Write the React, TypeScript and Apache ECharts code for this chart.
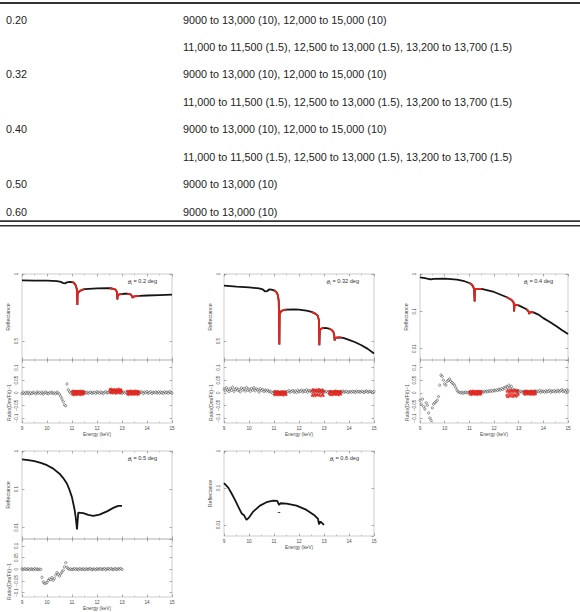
import React, { useEffect, useRef } from "react";
import * as echarts from "echarts";

// ---------------- Table data ----------------
const tableAngles = ["0.20", "", "0.32", "", "0.40", "", "0.50", "0.60"];
const tableRanges = [
  "9000 to 13,000 (10), 12,000 to 15,000 (10)",
  "11,000 to 11,500 (1.5), 12,500 to 13,000 (1.5), 13,200 to 13,700 (1.5)",
  "9000 to 13,000 (10), 12,000 to 15,000 (10)",
  "11,000 to 11,500 (1.5), 12,500 to 13,000 (1.5), 13,200 to 13,700 (1.5)",
  "9000 to 13,000 (10), 12,000 to 15,000 (10)",
  "11,000 to 11,500 (1.5), 12,500 to 13,000 (1.5), 13,200 to 13,700 (1.5)",
  "9000 to 13,000 (10)",
  "9000 to 13,000 (10)",
];

// ---------------- Chart data ----------------
const angleLabels = ["0.2", "0.32", "0.4", "0.5", "0.6"];
const fineRanges: [number, number][] = [[11.0, 11.5], [12.5, 13.0], [13.2, 13.7]];
const energyTickLabels = [9, 10, 11, 12, 13, 14, 15];
const linearReflTicks = [0.5, 1];
const residualTicks = [-0.1, -0.05, 0, 0.05, 0.1];

// Reflectance [energy keV, reflectance]
const refl020: [number, number][] = [
  [9.0, 0.952], [9.5, 0.951], [10.0, 0.95], [10.4, 0.947], [10.55, 0.942], [10.65, 0.932], [10.72, 0.93],
  [10.8, 0.938], [10.9, 0.942], [11.0, 0.94], [11.05, 0.937], [11.1, 0.93], [11.15, 0.915], [11.19, 0.89],
  [11.205, 0.84], [11.215, 0.77], [11.225, 0.855], [11.25, 0.862], [11.3, 0.872], [11.4, 0.882], [11.5, 0.887],
  [12.0, 0.893], [12.4, 0.895], [12.5, 0.894], [12.6, 0.892], [12.7, 0.888], [12.77, 0.878], [12.8, 0.86],
  [12.815, 0.81], [12.83, 0.84], [12.86, 0.846], [12.95, 0.85], [13.0, 0.851], [13.1, 0.853], [13.2, 0.853],
  [13.3, 0.851], [13.37, 0.845], [13.41, 0.832], [13.425, 0.822], [13.44, 0.83], [13.5, 0.834], [13.6, 0.836],
  [13.7, 0.837], [14.0, 0.84], [14.5, 0.843], [15.0, 0.846],
];
const refl032: [number, number][] = [
  [9.0, 0.913], [9.5, 0.906], [10.0, 0.9], [10.4, 0.893], [10.55, 0.885], [10.65, 0.87], [10.72, 0.872],
  [10.8, 0.885], [10.9, 0.884], [11.0, 0.878], [11.05, 0.873], [11.1, 0.865], [11.15, 0.845], [11.19, 0.8],
  [11.205, 0.62], [11.215, 0.475], [11.225, 0.7], [11.25, 0.712], [11.3, 0.726], [11.4, 0.732], [11.5, 0.735],
  [11.8, 0.737], [12.0, 0.735], [12.3, 0.728], [12.5, 0.718], [12.65, 0.705], [12.75, 0.69], [12.8, 0.655],
  [12.815, 0.47], [12.83, 0.58], [12.86, 0.59], [12.95, 0.598], [13.0, 0.599], [13.1, 0.597], [13.2, 0.593],
  [13.3, 0.585], [13.37, 0.572], [13.41, 0.545], [13.425, 0.505], [13.44, 0.52], [13.5, 0.527], [13.6, 0.528],
  [13.7, 0.526], [13.8, 0.522], [14.0, 0.51], [14.25, 0.492], [14.5, 0.47], [14.75, 0.443], [15.0, 0.408],
];
const refl040: [number, number][] = [
  [9.0, 0.814], [9.2, 0.78], [9.35, 0.735], [9.45, 0.72], [9.55, 0.745], [10.0, 0.75], [10.5, 0.705],
  [10.8, 0.64], [11.0, 0.574], [11.1, 0.52], [11.15, 0.467], [11.19, 0.4], [11.205, 0.26], [11.215, 0.185],
  [11.225, 0.37], [11.25, 0.397], [11.5, 0.397], [12.0, 0.33], [12.5, 0.242], [12.7, 0.205], [12.78, 0.18],
  [12.8, 0.167], [12.815, 0.1], [12.83, 0.145], [12.86, 0.151], [13.0, 0.145], [13.3, 0.1155], [13.38, 0.104],
  [13.41, 0.096], [13.425, 0.085], [13.44, 0.092], [13.5, 0.096], [13.6, 0.094], [13.8, 0.082], [14.0, 0.066],
  [14.25, 0.053], [14.5, 0.041], [14.75, 0.0316], [15.0, 0.0247],
];
const refl050: [number, number][] = [
  [9.0, 0.601], [9.25, 0.577], [9.5, 0.54], [9.75, 0.49], [10.0, 0.425], [10.25, 0.346], [10.5, 0.255],
  [10.65, 0.196], [10.8, 0.139], [10.9, 0.096], [11.0, 0.0613], [11.1, 0.03], [11.15, 0.018], [11.2, 0.00885],
  [11.25, 0.0245], [11.45, 0.0236], [11.65, 0.0213], [11.85, 0.02], [12.1, 0.0217], [12.4, 0.0264],
  [12.65, 0.0325], [12.85, 0.0369], [13.0, 0.0369],
];
const refl060: [number, number][] = [
  [9.0, 0.134], [9.17, 0.102], [9.3, 0.0718], [9.44, 0.0474], [9.57, 0.0313], [9.7, 0.0207], [9.81, 0.0179],
  [9.9, 0.0136], [10.0, 0.0158], [10.17, 0.0229], [10.44, 0.0333], [10.7, 0.041], [10.97, 0.0455],
  [11.13, 0.0445], [11.2, 0.0347], [11.26, 0.0385], [11.5, 0.0377], [11.9, 0.0333], [12.3, 0.0254],
  [12.63, 0.0179], [12.76, 0.0145], [12.8, 0.0104], [12.86, 0.0123], [13.0, 0.01],
];
const stray060: [number, number][] = [[11.2, 0.0216]];

// Residuals (Dm/Fit - 1), coarse scan sampled from 9.00 keV every 0.05 keV
const resStart = 9.0;
const resStep = 0.05;
const res020 = [
  -0.003, 0.002, -0.004, 0.001, -0.002, 0.003, -0.005, 0.0, -0.003, 0.002,
  -0.001, -0.004, 0.003, -0.002, 0.001, -0.003, 0.002, -0.005, 0.0, 0.003,
  -0.002, -0.004, 0.001, -0.001, 0.002, -0.003, 0.0, -0.004, 0.002, -0.002,
  -0.006,
  -0.015, -0.025, -0.035, -0.048, -0.052, 0.035, 0.012, 0.004, -0.002, 0.003,
  0.002, -0.003, 0.004, -0.001, 0.003, -0.004, 0.001, 0.002, -0.002, 0.003,
  -0.001, 0.002, -0.003, 0.001, 0.003, -0.002, 0.0, 0.002, -0.003, 0.004,
  0.001, -0.002, 0.003, 0.0, -0.003, 0.002, 0.004, -0.001, 0.002, 0.005,
  0.004, 0.006, 0.003, 0.007, 0.002, 0.005, 0.004, 0.001, 0.003, -0.002,
  0.002, -0.001, 0.003, 0.0, -0.002, 0.003, 0.001, -0.003, 0.002, 0.0,
  -0.002, 0.003, 0.001, -0.001, 0.004, 0.002, -0.003, 0.003, 0.0, 0.005,
  -0.002, 0.001, 0.004, -0.003, 0.002, 0.0, 0.003, -0.001, 0.004, -0.002,
  0.003, 0.001, -0.003, 0.004, 0.0, 0.002, -0.002, 0.005, 0.001, -0.001,
];
const res032 = [
  0.015, 0.008, 0.02, 0.011, 0.005, 0.017, 0.01, 0.022, 0.006, 0.014,
  0.018, 0.009, 0.013, 0.004, 0.019, 0.012, 0.016, 0.007, 0.021, 0.01,
  0.014, 0.006, 0.017, 0.011, 0.02, 0.008, 0.015, 0.012, 0.003, 0.016,
  0.009, 0.013, 0.005, 0.011, 0.007, 0.01, 0.004,
  0.006, 0.002, -0.002, 0.005,
  0.003, -0.001, 0.004, 0.0, 0.002, -0.002, 0.003, 0.001, -0.001, 0.004,
  0.005, 0.008, 0.002, 0.006, 0.009, 0.003, 0.007, 0.001, 0.01, 0.004,
  0.006, 0.011, 0.003, 0.008, 0.005, 0.012, 0.002, 0.009, 0.007, 0.004,
  0.006, 0.01, 0.002, 0.008, 0.003, 0.011, 0.004, 0.007, 0.001, 0.005,
  0.003, 0.006, 0.001, 0.004, 0.002, 0.005, 0.0, 0.003, 0.006, 0.002,
  0.004, 0.001, 0.005, 0.003, 0.007, 0.002, 0.004, 0.006, 0.001, 0.003,
  0.005, 0.002, 0.006, 0.004, 0.001, 0.007, 0.003, 0.005, 0.002, 0.006,
  0.004, 0.001, 0.005, 0.007, 0.002, 0.004, 0.006, 0.003, 0.001, 0.005,
];
const res040 = [
  -0.03, -0.045, -0.025, -0.055, -0.065, -0.04, -0.05, -0.08, -0.1, -0.11,
  -0.06, -0.045, -0.04, -0.035, -0.03, -0.015, 0.03, 0.07, 0.065, 0.05,
  0.035, 0.03, 0.045, 0.05, 0.055, 0.045, 0.04, 0.035, 0.03, 0.02,
  0.01, 0.004, 0.002, -0.001, 0.002, -0.002, 0.001, 0.003, -0.001, 0.002,
  0.0,
  0.001, -0.002, 0.003, 0.0, -0.001, 0.002, 0.004, -0.002, 0.003, 0.005,
  0.002, 0.006, 0.003, 0.007, 0.004, 0.008, 0.005, 0.009, 0.006, 0.01,
  0.008, 0.012, 0.009, 0.014, 0.011, 0.016, 0.013, 0.02, 0.018, 0.025,
  0.022, 0.03, 0.019, 0.026, 0.015, 0.012, 0.008, 0.01, 0.006, 0.004,
  0.003, 0.006, 0.002, 0.005, 0.004, 0.007, 0.001, 0.005, 0.003, 0.006,
  0.002, 0.005, 0.008, 0.003, 0.006, 0.004, 0.009, 0.002, 0.007, 0.005,
  0.003, 0.008, 0.004, 0.006, 0.01, 0.002, 0.007, 0.005, 0.009, 0.003,
  0.006, 0.01, 0.004, 0.008, 0.012, 0.005, 0.009, 0.003, 0.011, 0.006,
];
const res050 = [
  0.001, -0.002, 0.002, 0.0, -0.001, 0.002, -0.002, 0.001, 0.0, -0.002,
  0.002, -0.001, 0.001, -0.002, 0.0, -0.001,
  -0.035, -0.055, -0.062, -0.06, -0.058, -0.048, -0.042, -0.045, -0.036, -0.048,
  -0.04, -0.025, -0.015, -0.022, -0.03, -0.02, -0.012, -0.005, 0.01, 0.028, 0.008,
  0.002, -0.001, 0.001, -0.002, 0.0, 0.002, -0.001, 0.001, -0.002, 0.002,
  0.0, -0.001, 0.002, -0.002, 0.001, 0.0, -0.001, 0.002, 0.001, -0.002,
  0.001, 0.0, -0.002, 0.002, -0.001, 0.001, 0.002, -0.001, 0.0, 0.003,
  -0.002, 0.001, 0.002, -0.001, 0.003, 0.0, -0.002, 0.002, 0.001, -0.001,
  0.002, 0.0, 0.003, -0.001,
];

// Fine-step residuals, each fine range sampled every 0.0125 keV (41 values)
const fineStep = 0.0125;
const fine020 = [
  [0.004, -0.008, 0.006, -0.003, 0.009, -0.006, 0.002, -0.01, 0.007, -0.004,
   0.005, -0.007, 0.003, 0.008, -0.005, 0.001, -0.009, 0.006, -0.002, 0.007,
   -0.006, 0.003, -0.004, 0.008, -0.007, 0.002, 0.006, -0.009, 0.004, -0.001,
   0.009, -0.005, 0.003, -0.008, 0.006, -0.002, 0.007, -0.006, 0.001, 0.005, -0.003],
  [0.012, 0.002, 0.015, -0.002, 0.01, 0.004, 0.016, 0.0, 0.011, 0.006,
   -0.003, 0.013, 0.003, 0.009, 0.014, -0.001, 0.008, 0.012, 0.002, 0.01,
   -0.004, 0.007, 0.015, 0.001, 0.011, 0.005, -0.002, 0.013, 0.004, 0.009,
   0.016, 0.0, 0.008, 0.012, -0.003, 0.01, 0.006, 0.014, 0.002, 0.009, 0.005],
  [0.005, -0.007, 0.008, -0.004, 0.002, -0.009, 0.006, -0.002, 0.007, -0.006,
   0.003, 0.009, -0.005, 0.001, -0.008, 0.006, -0.003, 0.008, -0.006, 0.004,
   -0.002, 0.007, -0.008, 0.003, 0.005, -0.004, 0.009, -0.007, 0.001, 0.006,
   -0.003, 0.008, -0.005, 0.002, -0.009, 0.004, 0.007, -0.002, 0.005, -0.006, 0.003],
];
const fine032 = [
  [-0.006, 0.004, -0.01, 0.002, -0.004, 0.007, -0.008, 0.001, -0.003, 0.005,
   -0.009, 0.003, -0.006, 0.006, -0.002, -0.01, 0.004, -0.005, 0.002, -0.007,
   0.003, -0.008, 0.005, -0.001, -0.009, 0.006, -0.004, 0.002, -0.007, 0.004,
   -0.011, 0.001, -0.005, 0.006, -0.003, -0.008, 0.003, -0.006, 0.005, -0.002, -0.009],
  [0.008, -0.012, 0.01, -0.004, 0.014, -0.01, 0.006, -0.014, 0.012, 0.0,
   -0.008, 0.011, -0.006, 0.009, -0.013, 0.004, 0.013, -0.009, 0.007, -0.005,
   0.01, -0.011, 0.003, 0.015, -0.007, 0.006, -0.012, 0.009, -0.002, 0.012,
   -0.014, 0.005, 0.011, -0.008, 0.002, -0.01, 0.013, -0.004, 0.008, -0.013, 0.006],
  [-0.004, 0.006, -0.008, 0.003, -0.002, 0.007, -0.009, 0.001, 0.005, -0.006,
   0.004, -0.01, 0.002, 0.006, -0.005, 0.003, -0.007, 0.005, -0.003, 0.004,
   -0.006, 0.008, -0.009, 0.002, 0.005, -0.004, 0.007, -0.008, 0.0, 0.006,
   -0.006, 0.003, -0.01, 0.004, 0.001, -0.005, 0.007, -0.003, 0.005, -0.007, 0.002],
];
const fine040 = [
  [0.003, -0.007, 0.006, -0.002, 0.008, -0.005, 0.001, -0.009, 0.005, -0.003,
   0.007, -0.006, 0.002, 0.009, -0.004, 0.0, -0.008, 0.005, -0.001, 0.006,
   -0.005, 0.004, -0.007, 0.008, -0.003, 0.002, -0.009, 0.006, -0.002, 0.007,
   -0.006, 0.003, 0.008, -0.004, 0.001, -0.008, 0.005, -0.002, 0.006, -0.005, 0.002],
  [-0.01, 0.004, -0.016, 0.008, -0.006, 0.012, -0.018, 0.002, -0.012, 0.006,
   -0.004, 0.01, -0.014, 0.003, -0.008, 0.011, -0.015, 0.005, -0.003, 0.007,
   -0.01, 0.009, -0.017, 0.001, -0.011, 0.008, -0.006, 0.012, -0.013, 0.004,
   -0.009, 0.01, -0.016, 0.002, -0.005, 0.009, -0.012, 0.006, -0.002, 0.011, -0.008],
  [0.002, -0.006, 0.007, -0.003, 0.004, -0.008, 0.005, -0.001, 0.006, -0.005,
   0.002, 0.008, -0.004, 0.003, -0.007, 0.005, -0.002, 0.006, -0.005, 0.003,
   -0.004, 0.007, -0.008, 0.001, 0.005, -0.006, 0.008, -0.003, 0.002, -0.007,
   0.004, 0.006, -0.005, 0.001, -0.008, 0.005, -0.002, 0.007, -0.004, 0.003, -0.006],
];

// ---------------- Layout & style ----------------
const FONT = "Liberation Sans, Arial, sans-serif";
const BLACK = "#151515";
const RED = "#e3231c";
const FRAME = "#b8b8b8";
const LABEL = "#4a4a4a";

type Panel = {
  angle: string;
  refl: [number, number][];
  log: boolean;
  res: number[] | null;
  fine: number[][] | null;
  stray?: [number, number][];
  left: number; top: number; width: number; hTop: number; hRes: number;
};

const panels: Panel[] = [
  { angle: angleLabels[0], refl: refl020, log: false, res: res020, fine: fine020, left: 22, top: 274, width: 150, hTop: 86, hRes: 63 },
  { angle: angleLabels[1], refl: refl032, log: false, res: res032, fine: fine032, left: 224, top: 274, width: 150, hTop: 86, hRes: 63 },
  { angle: angleLabels[2], refl: refl040, log: true, res: res040, fine: fine040, left: 420, top: 274, width: 148, hTop: 86, hRes: 63 },
  { angle: angleLabels[3], refl: refl050, log: true, res: res050, fine: null, left: 22, top: 451, width: 150, hTop: 88, hRes: 63 },
  { angle: angleLabels[4], refl: refl060, log: true, res: null, fine: null, stray: stray060, left: 224, top: 451, width: 150, hTop: 85, hRes: 0 },
];

const tick = { show: true, inside: true, length: 2.5, lineStyle: { color: "#777", width: 0.6 } };
const minorTick = { show: true, splitNumber: 2, length: 1.5, lineStyle: { color: "#999", width: 0.5 } };
const noLine = { show: false, onZero: false };
const labelStyle = { fontSize: 4.7, color: LABEL, fontFamily: FONT };
const yLabelStyle = { fontSize: 4.5, color: LABEL, fontFamily: FONT };
const nameStyle = { fontSize: 5.2, color: LABEL, fontFamily: FONT };
const xNameStyle = { fontSize: 4.8, color: LABEL, fontFamily: FONT };

const fmtNum = (v: number) => {
  const r = +Number(v).toPrecision(3);
  if (r === 0) return "0";
  return r < 0 ? "\u2212" + String(Math.abs(r)) : String(r);
};

function buildOption() {
  const grids: any[] = [];
  const xAxes: any[] = [];
  const yAxes: any[] = [];
  const series: any[] = [];
  const graphics: any[] = [];

  const mkX = (g: number, labels: boolean) => ({
    type: "value", gridIndex: g, min: energyTickLabels[0], max: energyTickLabels[energyTickLabels.length - 1], interval: 1,
    position: "bottom", axisLine: noLine, axisTick: tick, minorTick, splitLine: { show: false },
    axisLabel: { show: labels, margin: 3, ...labelStyle },
    name: labels ? "Energy (keV)" : "", nameLocation: "middle", nameGap: 9, nameTextStyle: xNameStyle,
  });

  panels.forEach((p) => {
    // Reflectance grid
    const g = grids.length;
    grids.push({ left: p.left, top: p.top, width: p.width, height: p.hTop, show: true, borderColor: FRAME, borderWidth: 0.7, backgroundColor: "transparent" });
    xAxes.push(mkX(g, !p.res));
    if (p.log) {
      yAxes.push({
        type: "log", logBase: 10, gridIndex: g, min: 0.005, max: 1, position: "left",
        axisLine: noLine, axisTick: tick, splitLine: { show: false },
        axisLabel: { rotate: 90, margin: 3, showMinLabel: false, showMaxLabel: true, formatter: fmtNum, ...yLabelStyle },
        name: "Reflectance", nameLocation: "middle", nameGap: 12, nameTextStyle: nameStyle,
      });
    } else {
      yAxes.push({
        type: "value", gridIndex: g, min: 0.36, max: 1, position: "left",
        axisLine: noLine, axisTick: { ...tick, customValues: linearReflTicks }, splitLine: { show: false },
        axisLabel: { rotate: 90, margin: 3, customValues: linearReflTicks, formatter: fmtNum, ...yLabelStyle },
        name: "Reflectance", nameLocation: "middle", nameGap: 12, nameTextStyle: nameStyle,
      });
    }
    series.push({
      type: "line", xAxisIndex: g, yAxisIndex: g, data: p.refl, showSymbol: false, symbol: "none",
      lineStyle: { color: BLACK, width: 1.8 }, z: 2,
    });
    if (p.fine) {
      fineRanges.forEach(([a, b]) => {
        series.push({
          type: "line", xAxisIndex: g, yAxisIndex: g, data: p.refl.filter(([e]) => e >= a - 1e-9 && e <= b + 1e-9),
          showSymbol: false, symbol: "none", lineStyle: { color: RED, width: 1.8 }, z: 3,
        });
      });
    }
    if (p.stray) {
      series.push({
        type: "scatter", xAxisIndex: g, yAxisIndex: g, data: p.stray, symbol: "rect", symbolSize: [2.5, 1],
        itemStyle: { color: BLACK }, z: 3,
      });
    }
    graphics.push({
      type: "text", x: p.left + p.width - 15, y: p.top + 7, z: 100,
      style: {
        text: `{t|\u03b8}{s|i}{n| = ${p.angle} deg}`,
        align: "right", verticalAlign: "middle", fill: "#333",
        rich: {
          t: { fontStyle: "italic", fontSize: 6.2, fontFamily: FONT, fill: "#333" },
          s: { fontSize: 4, fontFamily: FONT, fill: "#333", padding: [4, 0, 0, 0] },
          n: { fontSize: 5.6, fontFamily: FONT, fill: "#333" },
        },
      },
    });

    // Residual grid
    if (p.res) {
      const r = grids.length;
      const rTop = p.top + p.hTop;
      grids.push({ left: p.left, top: rTop, width: p.width, height: p.hRes, show: true, borderColor: FRAME, borderWidth: 0.7, backgroundColor: "transparent" });
      xAxes.push(mkX(r, true));
      yAxes.push({
        type: "value", gridIndex: r, min: -0.12, max: 0.13, position: "left",
        axisLine: noLine, axisTick: { ...tick, customValues: residualTicks }, splitLine: { show: false },
        axisLabel: { rotate: 90, margin: 3, customValues: residualTicks, formatter: fmtNum, ...yLabelStyle },
      });
      series.push({
        type: "scatter", xAxisIndex: r, yAxisIndex: r,
        data: p.res.map((v, i) => [+(resStart + i * resStep).toFixed(3), v]),
        symbol: "circle", symbolSize: 2.3,
        itemStyle: { color: "#fff", borderColor: "#1a1a1a", borderWidth: 0.6 }, z: 2,
      });
      if (p.fine) {
        p.fine.forEach((vals, k) => {
          const start = fineRanges[k][0];
          series.push({
            type: "scatter", xAxisIndex: r, yAxisIndex: r,
            data: vals.map((v, i) => [+(start + i * fineStep).toFixed(4), v]),
            symbol: "circle", symbolSize: 2.2, itemStyle: { color: RED }, z: 3,
          });
        });
      }
      graphics.push({
        type: "text", x: p.left - 13, y: rTop + p.hRes / 2 + 11, rotation: Math.PI / 2, z: 100,
        style: { text: "Ratio(Dm/Fit)\u22121", align: "center", verticalAlign: "middle", fill: LABEL, fontSize: 5.2, fontFamily: FONT },
      });
    }
  });

  // Mirror ticks on top and right edges
  const nGrid = grids.length;
  for (let g = 0; g < nGrid; g++) {
    xAxes.push({
      type: "value", gridIndex: g, min: 9, max: 15, interval: 1, position: "top",
      axisLine: noLine, axisTick: tick, minorTick, splitLine: { show: false }, axisLabel: { show: false },
    });
    const base = yAxes[g];
    yAxes.push({
      ...base, position: "right", name: "", axisLine: noLine, axisLabel: { ...base.axisLabel, show: false },
    });
  }

  // Table
  const rowTop = 19.5;
  const rowH = 27.45;
  graphics.push({ type: "rect", shape: { x: 0, y: 2, width: 580, height: 2 }, style: { fill: "#333" }, z: 50 });
  graphics.push({ type: "rect", shape: { x: 0, y: 220.3, width: 580, height: 1.6 }, style: { fill: "#333" }, z: 50 });
  graphics.push({ type: "rect", shape: { x: 0, y: 224.9, width: 580, height: 1.6 }, style: { fill: "#333" }, z: 50 });
  tableRanges.forEach((txt, i) => {
    const y = rowTop + i * rowH;
    if (tableAngles[i]) {
      graphics.push({ type: "text", x: 6, y, z: 50, style: { text: tableAngles[i], fontSize: 10.8, fontFamily: FONT, fill: "#222", verticalAlign: "middle" } });
    }
    graphics.push({ type: "text", x: 183, y, z: 50, style: { text: txt, fontSize: 10.8, fontFamily: FONT, fill: "#222", verticalAlign: "middle" } });
  });

  return {
    animation: false,
    backgroundColor: "#fff",
    textStyle: { fontFamily: FONT },
    grid: grids,
    xAxis: xAxes,
    yAxis: yAxes,
    series,
    graphic: graphics,
  };
}

export default function App() {
  const ref = useRef<HTMLDivElement>(null);
  useEffect(() => {
    if (!ref.current) return;
    const chart = echarts.init(ref.current, undefined, { renderer: "svg", width: 580, height: 612 });
    chart.setOption(buildOption() as any);
    return () => chart.dispose();
  }, []);
  return (
    <div
      ref={ref}
      style={{ position: "absolute", left: 0, top: 0, width: 580, height: 612, background: "#fff" }}
    />
  );
}
